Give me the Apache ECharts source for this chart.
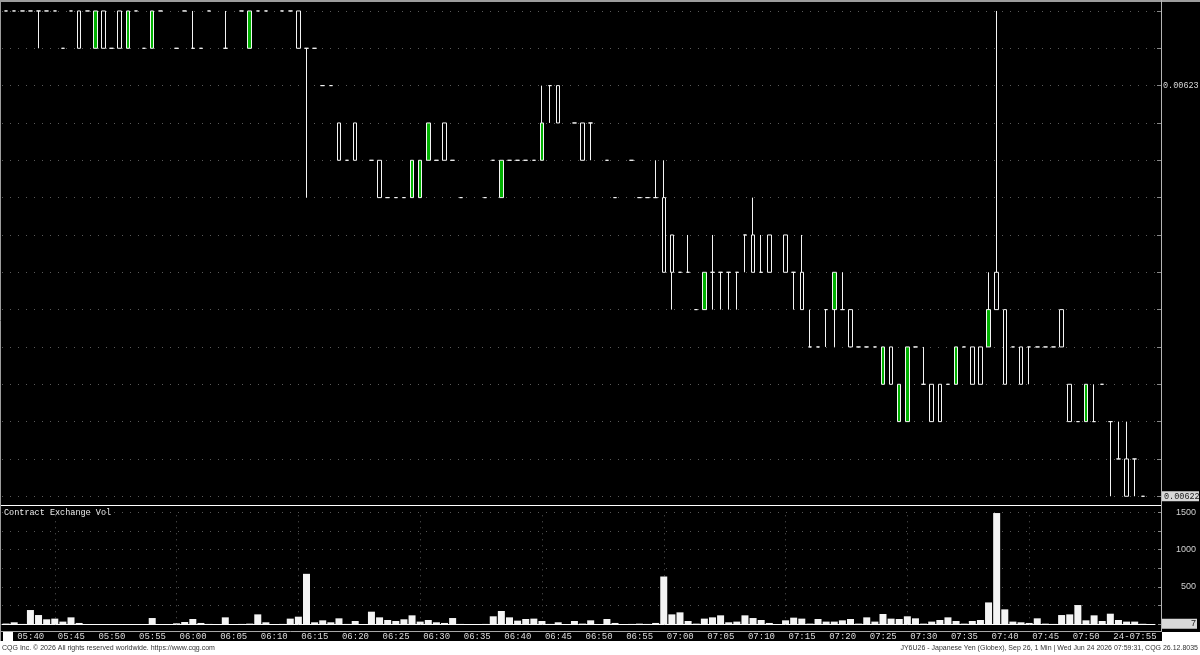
<!DOCTYPE html>
<html>
<head>
<meta charset="utf-8">
<title>JY6U26 - Japanese Yen, 1 Min</title>
<script src="https://cdn.jsdelivr.net/npm/echarts@6/dist/echarts.min.js"></script>
<style>
  html, body { margin: 0; padding: 0; background: #000; }
  #main { width: 1200px; height: 655px; }
</style>
</head>
<body>
<div id="main"></div>
<script>
// first bar time and number of 1-minute bars (05:39 .. 07:59)
const firstBar = '05:39';
const barCount = 141;

// bars: [open, high, low, close], null = no trade in that minute
const ohlc = [
  [0.0062310, 0.0062310, 0.0062310, 0.0062310], [0.0062310, 0.0062310, 0.0062310, 0.0062310], [0.0062310, 0.0062310, 0.0062310, 0.0062310], // 05:39
  [0.0062310, 0.0062310, 0.0062310, 0.0062310], [0.0062310, 0.0062310, 0.0062305, 0.0062310], [0.0062310, 0.0062310, 0.0062310, 0.0062310], // 05:42
  [0.0062310, 0.0062310, 0.0062310, 0.0062310], [0.0062305, 0.0062305, 0.0062305, 0.0062305], [0.0062310, 0.0062310, 0.0062310, 0.0062310], // 05:45
  [0.0062310, 0.0062310, 0.0062305, 0.0062305], [0.0062310, 0.0062310, 0.0062310, 0.0062310], [0.0062305, 0.0062310, 0.0062305, 0.0062310], // 05:48
  [0.0062310, 0.0062310, 0.0062305, 0.0062305], [0.0062305, 0.0062305, 0.0062305, 0.0062305], [0.0062310, 0.0062310, 0.0062305, 0.0062305], // 05:51
  [0.0062305, 0.0062310, 0.0062305, 0.0062310], [0.0062310, 0.0062310, 0.0062310, 0.0062310], [0.0062305, 0.0062305, 0.0062305, 0.0062305], // 05:54
  [0.0062305, 0.0062310, 0.0062305, 0.0062310], [0.0062310, 0.0062310, 0.0062310, 0.0062310], null,                                         // 05:57
  [0.0062305, 0.0062305, 0.0062305, 0.0062305], [0.0062310, 0.0062310, 0.0062310, 0.0062310], [0.0062305, 0.0062310, 0.0062305, 0.0062305], // 06:00
  [0.0062305, 0.0062305, 0.0062305, 0.0062305], [0.0062310, 0.0062310, 0.0062310, 0.0062310], null,                                         // 06:03
  [0.0062305, 0.0062310, 0.0062305, 0.0062305], null,                                         [0.0062310, 0.0062310, 0.0062310, 0.0062310], // 06:06
  [0.0062305, 0.0062310, 0.0062305, 0.0062310], [0.0062310, 0.0062310, 0.0062310, 0.0062310], [0.0062310, 0.0062310, 0.0062310, 0.0062310], // 06:09
  null,                                         [0.0062310, 0.0062310, 0.0062310, 0.0062310], [0.0062310, 0.0062310, 0.0062310, 0.0062310], // 06:12
  [0.0062310, 0.0062310, 0.0062305, 0.0062305], [0.0062305, 0.0062305, 0.0062285, 0.0062305], [0.0062305, 0.0062305, 0.0062305, 0.0062305], // 06:15
  [0.0062300, 0.0062300, 0.0062300, 0.0062300], [0.0062300, 0.0062300, 0.0062300, 0.0062300], [0.0062295, 0.0062295, 0.0062290, 0.0062290], // 06:18
  [0.0062290, 0.0062290, 0.0062290, 0.0062290], [0.0062295, 0.0062295, 0.0062290, 0.0062290], null,                                         // 06:21
  [0.0062290, 0.0062290, 0.0062290, 0.0062290], [0.0062290, 0.0062290, 0.0062285, 0.0062285], [0.0062285, 0.0062285, 0.0062285, 0.0062285], // 06:24
  [0.0062285, 0.0062285, 0.0062285, 0.0062285], [0.0062285, 0.0062285, 0.0062285, 0.0062285], [0.0062285, 0.0062290, 0.0062285, 0.0062290], // 06:27
  [0.0062285, 0.0062290, 0.0062285, 0.0062290], [0.0062290, 0.0062295, 0.0062290, 0.0062295], [0.0062290, 0.0062290, 0.0062290, 0.0062290], // 06:30
  [0.0062295, 0.0062295, 0.0062290, 0.0062290], [0.0062290, 0.0062290, 0.0062290, 0.0062290], [0.0062285, 0.0062285, 0.0062285, 0.0062285], // 06:33
  null,                                         null,                                         [0.0062285, 0.0062285, 0.0062285, 0.0062285], // 06:36
  [0.0062290, 0.0062290, 0.0062290, 0.0062290], [0.0062285, 0.0062290, 0.0062285, 0.0062290], [0.0062290, 0.0062290, 0.0062290, 0.0062290], // 06:39
  [0.0062290, 0.0062290, 0.0062290, 0.0062290], [0.0062290, 0.0062290, 0.0062290, 0.0062290], [0.0062290, 0.0062290, 0.0062290, 0.0062290], // 06:42
  [0.0062290, 0.0062300, 0.0062290, 0.0062295], [0.0062300, 0.0062300, 0.0062295, 0.0062300], [0.0062300, 0.0062300, 0.0062295, 0.0062295], // 06:45
  null,                                         [0.0062295, 0.0062295, 0.0062295, 0.0062295], [0.0062295, 0.0062295, 0.0062290, 0.0062290], // 06:48
  [0.0062295, 0.0062295, 0.0062290, 0.0062295], null,                                         [0.0062290, 0.0062290, 0.0062290, 0.0062290], // 06:51
  [0.0062285, 0.0062285, 0.0062285, 0.0062285], null,                                         [0.0062290, 0.0062290, 0.0062290, 0.0062290], // 06:54
  [0.0062285, 0.0062285, 0.0062285, 0.0062285], [0.0062285, 0.0062285, 0.0062285, 0.0062285], [0.0062285, 0.0062290, 0.0062285, 0.0062285], // 06:57
  [0.0062285, 0.0062290, 0.0062275, 0.0062275], [0.0062280, 0.0062280, 0.0062270, 0.0062275], [0.0062275, 0.0062275, 0.0062275, 0.0062275], // 07:00
  [0.0062275, 0.0062280, 0.0062275, 0.0062275], [0.0062270, 0.0062270, 0.0062270, 0.0062270], [0.0062270, 0.0062275, 0.0062270, 0.0062275], // 07:03
  [0.0062275, 0.0062280, 0.0062270, 0.0062275], [0.0062275, 0.0062275, 0.0062270, 0.0062275], [0.0062275, 0.0062275, 0.0062270, 0.0062275], // 07:06
  [0.0062275, 0.0062275, 0.0062270, 0.0062275], [0.0062280, 0.0062280, 0.0062275, 0.0062280], [0.0062280, 0.0062285, 0.0062275, 0.0062275], // 07:09
  [0.0062275, 0.0062280, 0.0062275, 0.0062275], [0.0062280, 0.0062280, 0.0062275, 0.0062275], null,                                         // 07:12
  [0.0062280, 0.0062280, 0.0062275, 0.0062275], [0.0062275, 0.0062275, 0.0062270, 0.0062275], [0.0062275, 0.0062280, 0.0062270, 0.0062270], // 07:15
  [0.0062265, 0.0062270, 0.0062265, 0.0062265], [0.0062265, 0.0062265, 0.0062265, 0.0062265], [0.0062270, 0.0062270, 0.0062265, 0.0062270], // 07:18
  [0.0062270, 0.0062275, 0.0062265, 0.0062275], [0.0062270, 0.0062275, 0.0062270, 0.0062270], [0.0062270, 0.0062270, 0.0062265, 0.0062265], // 07:21
  [0.0062265, 0.0062265, 0.0062265, 0.0062265], [0.0062265, 0.0062265, 0.0062265, 0.0062265], [0.0062265, 0.0062265, 0.0062265, 0.0062265], // 07:24
  [0.0062260, 0.0062265, 0.0062260, 0.0062265], [0.0062265, 0.0062265, 0.0062260, 0.0062260], [0.0062255, 0.0062260, 0.0062255, 0.0062260], // 07:27
  [0.0062255, 0.0062265, 0.0062255, 0.0062265], [0.0062265, 0.0062265, 0.0062265, 0.0062265], [0.0062260, 0.0062265, 0.0062260, 0.0062260], // 07:30
  [0.0062260, 0.0062260, 0.0062255, 0.0062255], [0.0062260, 0.0062260, 0.0062255, 0.0062255], [0.0062260, 0.0062260, 0.0062260, 0.0062260], // 07:33
  [0.0062260, 0.0062265, 0.0062260, 0.0062265], [0.0062265, 0.0062265, 0.0062265, 0.0062265], [0.0062265, 0.0062265, 0.0062260, 0.0062260], // 07:36
  [0.0062265, 0.0062265, 0.0062260, 0.0062260], [0.0062265, 0.0062275, 0.0062265, 0.0062270], [0.0062275, 0.0062310, 0.0062270, 0.0062270], // 07:39
  [0.0062270, 0.0062270, 0.0062260, 0.0062260], [0.0062265, 0.0062265, 0.0062265, 0.0062265], [0.0062265, 0.0062265, 0.0062260, 0.0062260], // 07:42
  [0.0062265, 0.0062265, 0.0062260, 0.0062265], [0.0062265, 0.0062265, 0.0062265, 0.0062265], [0.0062265, 0.0062265, 0.0062265, 0.0062265], // 07:45
  [0.0062265, 0.0062265, 0.0062265, 0.0062265], [0.0062270, 0.0062270, 0.0062265, 0.0062265], [0.0062260, 0.0062260, 0.0062255, 0.0062255], // 07:48
  [0.0062255, 0.0062255, 0.0062255, 0.0062255], [0.0062255, 0.0062260, 0.0062255, 0.0062260], [0.0062255, 0.0062260, 0.0062255, 0.0062255], // 07:51
  [0.0062260, 0.0062260, 0.0062260, 0.0062260], [0.0062255, 0.0062255, 0.0062245, 0.0062255], [0.0062250, 0.0062255, 0.0062250, 0.0062250], // 07:54
  [0.0062250, 0.0062255, 0.0062245, 0.0062245], [0.0062250, 0.0062250, 0.0062245, 0.0062250], [0.0062245, 0.0062245, 0.0062245, 0.0062245]  // 07:57
];

// contract exchange volume per minute
const volumes = [
  10, 27, 5, 191, 124, 67, 76, 36, 93, 18, 4, 3, 3, 3, 3, 3, 3, 2, 84, 3,       // 05:39
  null, 13, 31, 71, 18, 5, null, 93, null, 5, 9, 133, 27, null, 5, 76, 102, 676, 27, 53, // 05:59
  27, 80, 5, 44, null, 169, 93, 58, 44, 67, 120, 36, 58, 27, 18, 84, 5, null, null, 5,  // 06:19
  107, 178, 93, 49, 71, 76, 44, 5, 27, null, 44, 9, 53, null, 71, 18, null, 5, 9, 5,     // 06:39
  18, 640, 133, 160, 44, 9, 76, 93, 120, 27, 36, 120, 84, 58, 18, null, 53, 89, 76, 9,  // 06:59
  71, 36, 36, 53, 71, 9, 93, 36, 138, 76, 71, 107, 80, 9, 36, 58, 93, 44, 9, 44,       // 07:19
  58, 293, 1490, 200, 36, 27, 18, 80, 9, 5, 124, 133, 258, 53, 120, 44, 142, 58, 36, 36, // 07:39
  7                                                                                    // 07:59
];

// price grid levels (one tick = 0.0000005)
const priceLevels = [0.0062310, 0.0062305, 0.0062300, 0.0062295, 0.0062290, 0.0062285, 0.0062280,
  0.0062275, 0.0062270, 0.0062265, 0.0062260, 0.0062255, 0.0062250, 0.0062245];
const priceLabels = [0.00623];
const volumeLabels = [500, 1000, 1500];
const dateLabels = { '07:55': '24-07:55' };

// minute categories, plus one empty slot on the right
const times = [];
(function () {
  let h = +firstBar.slice(0, 2), m = +firstBar.slice(3);
  for (let i = 0; i < barCount; i++) {
    times.push(String(h).padStart(2, '0') + ':' + String(m).padStart(2, '0'));
    m++;
    if (m === 60) { m = 0; h++; }
  }
  times.push('');
})();

const lastPrice = ohlc[ohlc.length - 1][3];
const lastVolume = volumes[volumes.length - 1];

function minuteOf(t) {
  return t ? +t.slice(3) : -1;
}

const mono = 'Liberation Mono';
const gridLeft = 2;
const gridWidth = 1153;

var myChart = echarts.init(document.getElementById('main'));

var option = {
  backgroundColor: '#000',
  animation: false,
  grid: [
    { left: gridLeft, width: gridWidth, top: 2, height: 501, outerBoundsMode: 'none' },      // price
    { left: gridLeft, width: gridWidth, top: 512.3, height: 112, outerBoundsMode: 'none' },  // volume
    { left: gridLeft, width: gridWidth, top: 631.5, height: 10, outerBoundsMode: 'none' }    // time strip
  ],
  xAxis: [
    {
      type: 'category', gridIndex: 0, data: times,
      axisLine: { show: false }, axisTick: { show: false }, axisLabel: { show: false }, splitLine: { show: false }
    },
    {
      type: 'category', gridIndex: 1, data: times,
      axisLine: { show: true, lineStyle: { color: '#fff', width: 1 } },
      axisTick: { show: false }, axisLabel: { show: false }, splitLine: { show: false }
    },
    {
      type: 'category', gridIndex: 2, data: times, position: 'top',
      axisLine: { show: false },
      axisTick: {
        show: true, inside: true, length: 10, alignWithLabel: true,
        interval: function (i, v) { return minuteOf(v) % 5 === 0; },
        lineStyle: { color: '#a0a0a0' }
      },
      axisLabel: {
        show: true, inside: true, margin: 1, align: 'left', verticalAlign: 'top',
        padding: [0, 0, 0, 3],
        interval: function (i, v) { return minuteOf(v) % 5 === 0; },
        formatter: function (v) { return dateLabels[v] || v; },
        color: '#dcdcdc', fontSize: 9, fontFamily: mono
      },
      splitLine: { show: false }
    }
  ],
  yAxis: [
    {
      type: 'value', gridIndex: 0, position: 'right', offset: 6,
      min: 0.00622441, max: 0.00623112, scale: true,
      axisLine: { show: false },
      axisTick: { show: true, inside: true, length: 4, customValues: priceLevels, lineStyle: { color: '#888' } },
      axisLabel: {
        customValues: priceLabels, margin: 2, color: '#d8d8d8', fontSize: 8.5, fontFamily: mono,
        formatter: function (v) { return v.toFixed(5); }
      },
      splitLine: { show: true, lineStyle: { color: '#5a5a5a', type: [1, 7], width: 1 } }
    },
    {
      // last price box
      type: 'value', gridIndex: 0, position: 'right', offset: 6,
      min: 0.00622441, max: 0.00623112, scale: true,
      axisLine: { show: false }, axisTick: { show: false }, splitLine: { show: false },
      axisLabel: {
        customValues: [lastPrice], margin: 1, color: '#202020', fontSize: 8.5, fontFamily: mono,
        backgroundColor: '#d8d8d8', width: 34, padding: [1, 1, 0, 2],
        formatter: function (v) { return v.toFixed(5); }
      }
    },
    {
      type: 'value', gridIndex: 1, position: 'right', offset: 6,
      min: 0, max: 1500, interval: 250,
      axisLine: { show: false },
      axisTick: { show: true, inside: true, length: 3, lineStyle: { color: '#888' } },
      axisLabel: {
        customValues: volumeLabels, margin: 35, align: 'right', color: '#d0d0d0', fontSize: 9,
        fontFamily: 'Liberation Sans',
        formatter: function (v) { return String(v); }
      },
      splitLine: { show: true, lineStyle: { color: '#555', type: [1, 7] } }
    },
    {
      // current volume box
      type: 'value', gridIndex: 1, position: 'right', offset: 6,
      min: 0, max: 1500,
      axisLine: { show: false }, axisTick: { show: false }, splitLine: { show: false },
      axisLabel: {
        customValues: [lastVolume], margin: 36, align: 'right', color: '#202020', fontSize: 9,
        fontFamily: 'Liberation Sans', backgroundColor: '#d8d8d8', width: 34, padding: [1, 1, 0, 1],
        formatter: function (v) { return String(v); }
      }
    },
    { type: 'value', gridIndex: 2, show: false }
  ],
  series: [
    {
      type: 'candlestick', xAxisIndex: 0, yAxisIndex: 0,
      data: ohlc.map(function (b) { return b ? [b[0], b[3], b[2], b[1]] : ['-', '-', '-', '-']; }),
      barWidth: 4,
      itemStyle: {
        color: '#00b000', color0: '#000',
        borderColor: '#f4f4f4', borderColor0: '#f4f4f4', borderColorDoji: '#f4f4f4', borderWidth: 1
      }
    },
    {
      type: 'bar', xAxisIndex: 1, yAxisIndex: 2,
      data: volumes,
      barWidth: 7,
      itemStyle: { color: '#f4f4f4' },
      markLine: {
        silent: true, symbol: 'none', label: { show: false }, z: 1,
        lineStyle: { color: '#5a5a5a', type: [1, 5], width: 1 },
        data: times.filter(function (t) { return minuteOf(t) % 15 === 0; })
          .map(function (t) { return { xAxis: t }; })
      }
    }
  ],
  graphic: [
    { type: 'rect', z: 100, shape: { x: 0, y: 641, width: 1200, height: 14 }, style: { fill: '#fff' } },
    { type: 'rect', z: 100, shape: { x: 1162, y: 632, width: 38, height: 9 }, style: { fill: '#fff' } },
    { type: 'rect', z: 100, shape: { x: 3, y: 632, width: 10, height: 9 }, style: { fill: '#fff' } },
    { type: 'line', z: 100, shape: { x1: 0, y1: 1, x2: 1200, y2: 1 }, style: { stroke: '#9c9c9c', lineWidth: 2 } },
    { type: 'line', z: 100, shape: { x1: 0.5, y1: 0, x2: 0.5, y2: 641 }, style: { stroke: '#9c9c9c', lineWidth: 1 } },
    { type: 'line', z: 100, shape: { x1: 1161.5, y1: 0, x2: 1161.5, y2: 632 }, style: { stroke: '#b4b4b4', lineWidth: 1 } },
    { type: 'line', z: 100, shape: { x1: 1, y1: 505.5, x2: 1161, y2: 505.5 }, style: { stroke: '#fff', lineWidth: 1 } },
    { type: 'line', z: 100, shape: { x1: 0, y1: 631.5, x2: 1162, y2: 631.5 }, style: { stroke: '#a8a8a8', lineWidth: 1 } },
    {
      type: 'text', z: 100, left: 4, top: 508,
      style: { text: 'Contract Exchange Vol', fill: '#eaeaea', font: '8.5px "Liberation Mono"' }
    },
    {
      type: 'text', z: 101, left: 2, top: 645,
      style: { text: 'CQG Inc. © 2026 All rights reserved worldwide. https://www.cqg.com', fill: '#333', font: '7px "Liberation Sans"' }
    },
    {
      type: 'text', z: 101, right: 2, top: 645,
      style: { text: 'JY6U26 - Japanese Yen (Globex), Sep 26, 1 Min | Wed Jun 24 2026 07:59:31, CQG 26.12.8035', fill: '#333', font: '7px "Liberation Sans"' }
    }
  ]
};

option && myChart.setOption(option);
window.addEventListener('resize', function () {
  myChart.resize();
});
</script>
</body>
</html>
